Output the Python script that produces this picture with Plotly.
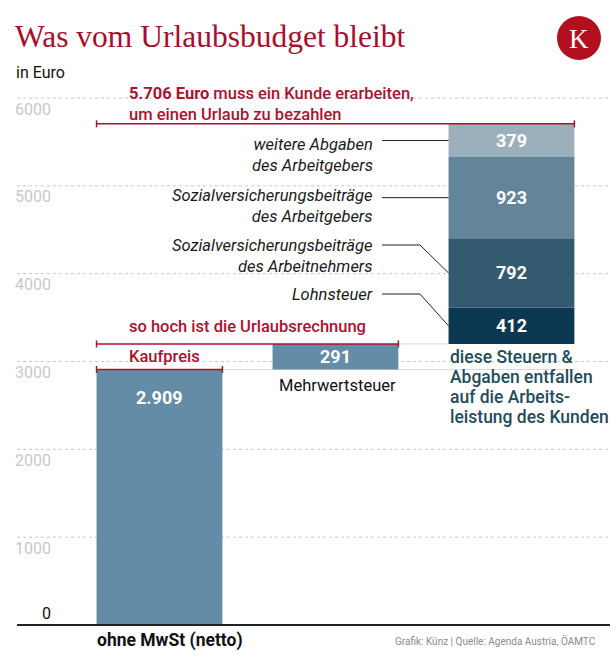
import plotly.graph_objects as go

# ---------------- data ----------------
categories = ["ohne MwSt (netto)", "Mehrwertsteuer", "Steuern & Abgaben"]
kaufpreis = 2909
mehrwertsteuer = 291
abgaben_labels = ["Lohnsteuer", "Sozialversicherungsbeiträge<br>des Arbeitnehmers",
                  "Sozialversicherungsbeiträge<br>des Arbeitgebers", "weitere Abgaben<br>des Arbeitgebers"]
abgaben_values = [412, 792, 923, 379]
abgaben_text = ["412", "792", "923", "379"]
total_text = "5.706"
tick_values = [0, 1000, 2000, 3000, 4000, 5000, 6000]
note_lines = ["diese Steuern &", "Abgaben entfallen", "auf die Arbeits-", "leistung des Kunden"]

# ---------------- styles ----------------
W, H = 616, 658
RED = "#AC1230"
LOGO_RED = "#B3101F"
TEAL = "#1E4D5C"
BAR_BLUE = "#658CA6"
SEG_COLORS = ["#0D3851", "#345A6F", "#64849A", "#9BB0BC"]
FONT = "Roboto"

X0 = -0.906
PX_PER_X = 176.0
ZERO_PX = 625.0
K = 527.0 / 6000.0
BW = 0.715

def xd(px):
    return X0 + px / PX_PER_X

def yd(py):
    return (ZERO_PX - py) / K

def px_(px):
    return px / W

def py_(py):
    return 1 - py / H

fig = go.Figure()

fig.add_bar(x=[0], y=[kaufpreis], base=[0], width=BW, marker_color=BAR_BLUE,
            marker_line_width=0, hoverinfo="skip")
fig.add_bar(x=[1], y=[mehrwertsteuer], base=[kaufpreis], width=BW, marker_color=BAR_BLUE,
            marker_line_width=0, hoverinfo="skip")
start3 = kaufpreis + mehrwertsteuer
bases = []
acc = start3
for v in abgaben_values:
    bases.append(acc)
    acc += v
total = acc
for i, v in enumerate(abgaben_values):
    fig.add_bar(x=[2], y=[v], base=[bases[i]], width=BW, marker_color=SEG_COLORS[i],
                marker_line_width=0, hoverinfo="skip")

shapes = []
annotations = []

for t in tick_values[1:]:
    shapes.append(dict(type="line", xref="paper", yref="y", x0=px_(17), x1=px_(610), y0=t, y1=t,
                       line=dict(color="#C9C9C9", width=1, dash="dot"), layer="below"))
    annotations.append(dict(xref="paper", yref="y", x=px_(53), y=t, yshift=-11, xanchor="right",
                            yanchor="middle", text=str(t), showarrow=False,
                            font=dict(family=FONT, size=16, color="#C8C8C8")))
shapes.append(dict(type="line", xref="paper", yref="y", x0=px_(17), x1=px_(610), y0=0, y1=0,
                   line=dict(color="#222222", width=2)))
annotations.append(dict(xref="paper", yref="y", x=px_(53), y=0, yshift=12, xanchor="right",
                        yanchor="middle", text="0", showarrow=False,
                        font=dict(family=FONT, size=16, color="#111111")))

shapes.append(dict(type="line", x0=0 + BW / 2, x1=2 + BW / 2, y0=kaufpreis, y1=kaufpreis,
                   line=dict(color="#DADADA", width=1), layer="below"))
shapes.append(dict(type="line", x0=1 + BW / 2, x1=2 - BW / 2, y0=start3, y1=start3,
                   line=dict(color="#DADADA", width=1), layer="below"))

tick_h = 3.5 / K
def bracket(xa, xb, yv):
    shapes.append(dict(type="line", x0=xa, x1=xb, y0=yv, y1=yv, line=dict(color=RED, width=1.5)))
    for xx in (xa, xb):
        shapes.append(dict(type="line", x0=xx, x1=xx, y0=yv - tick_h, y1=yv + tick_h,
                           line=dict(color=RED, width=1.5)))

bracket(0 - BW / 2, 2 + BW / 2, total)
bracket(0 - BW / 2, 1 + BW / 2, start3)
bracket(0 - BW / 2, 0 + BW / 2, kaufpreis)

annotations.append(dict(x=0, y=kaufpreis, yshift=-28, text="<b>2.909</b>", showarrow=False,
                        font=dict(family=FONT, size=18, color="white")))
annotations.append(dict(x=1, y=kaufpreis + mehrwertsteuer / 2, text="<b>%d</b>" % mehrwertsteuer,
                        showarrow=False, font=dict(family=FONT, size=18, color="white")))
for i, v in enumerate(abgaben_values):
    annotations.append(dict(x=2, y=bases[i] + v / 2, text="<b>%s</b>" % abgaben_text[i],
                            showarrow=False, font=dict(family=FONT, size=18, color="white")))

label_rows = [294, 245, 195, 144]
for i, v in enumerate(abgaben_values):
    mid = bases[i] + v / 2
    row = label_rows[i]
    bx = 2 - BW / 2
    if abs(yd(row) - mid) * K > 8:
        path = "M %f,%f L %f,%f L %f,%f" % (xd(382), yd(row), xd(420), yd(row), bx, mid)
        shapes.append(dict(type="path", path=path, line=dict(color="#222222", width=1)))
    else:
        shapes.append(dict(type="line", x0=xd(382), x1=bx, y0=mid, y1=mid,
                           line=dict(color="#222222", width=1)))
    annotations.append(dict(xref="paper", yref="paper", x=px_(375), y=py_(row - 11),
                            xanchor="right", yanchor="top", align="right",
                            text="<i>%s</i>" % abgaben_labels[i], showarrow=False,
                            font=dict(family=FONT, size=16.5, color="#1a1a1a")))

annotations.append(dict(xref="paper", yref="paper", x=px_(127), y=py_(82), xanchor="left",
                        yanchor="top", align="left",
                        text="<b>%s Euro</b> muss ein Kunde erarbeiten,<br>um einen Urlaub zu bezahlen" % total_text,
                        showarrow=False, font=dict(family=FONT, size=16.5, color=RED, weight=500)))
annotations.append(dict(xref="paper", x=px_(127), y=start3, yshift=17, xanchor="left",
                        yanchor="middle", text="so hoch ist die Urlaubsrechnung", showarrow=False,
                        font=dict(family=FONT, size=16.5, color=RED, weight=500)))
annotations.append(dict(xref="paper", x=px_(127), y=kaufpreis, yshift=13, xanchor="left",
                        yanchor="middle", text="Kaufpreis", showarrow=False,
                        font=dict(family=FONT, size=16.5, color=RED, weight=500)))
annotations.append(dict(x=1 - BW / 2, xshift=4, y=kaufpreis, yshift=-16, xanchor="left",
                        yanchor="middle", text=categories[1], showarrow=False,
                        font=dict(family=FONT, size=16.5, color="#111111")))
for j, line in enumerate(note_lines):
    annotations.append(dict(x=2 - BW / 2, xshift=-1, y=start3, yshift=-13 - 20 * j,
                            xanchor="left", yanchor="middle", text=line, showarrow=False,
                            font=dict(family=FONT, size=17.5, color=TEAL, weight=500)))

annotations.append(dict(x=0 - BW / 2, xshift=-2, yref="paper", y=py_(640), xanchor="left",
                        yanchor="middle", text="<b>%s</b>" % categories[0], showarrow=False,
                        font=dict(family=FONT, size=17.5, color="#111111")))
annotations.append(dict(xref="paper", yref="paper", x=px_(598), y=py_(641), xanchor="right",
                        yanchor="middle", text="Grafik: Künz | Quelle: Agenda Austria, ÖAMTC",
                        showarrow=False, font=dict(family=FONT, size=10, color="#8A8A8A")))

annotations.append(dict(xref="paper", yref="paper", x=px_(13), y=py_(37), xanchor="left",
                        yanchor="middle", text="Was vom Urlaubsbudget bleibt", showarrow=False,
                        font=dict(family="Liberation Serif", size=31.5, color="#A50F2D")))
annotations.append(dict(xref="paper", yref="paper", x=px_(14), y=py_(73), xanchor="left",
                        yanchor="middle", text="in Euro", showarrow=False,
                        font=dict(family=FONT, size=16, color="#111111")))
shapes.append(dict(type="circle", xref="paper", yref="paper", x0=px_(557), x1=px_(601),
                   y0=py_(60), y1=py_(16), fillcolor=LOGO_RED, line=dict(width=0)))
annotations.append(dict(xref="paper", yref="paper", x=px_(579), y=py_(39), xanchor="center",
                        yanchor="middle", text="K", showarrow=False,
                        font=dict(family="Liberation Serif", size=27, color="white")))

fig.update_layout(
    width=W, height=H, margin=dict(l=0, r=0, t=0, b=0), autosize=False,
    paper_bgcolor="white", plot_bgcolor="white", showlegend=False, barmode="overlay",
    xaxis=dict(range=[X0, X0 + W / PX_PER_X], visible=False, fixedrange=True),
    yaxis=dict(range=[yd(H), yd(0)], visible=False, fixedrange=True),
    shapes=shapes, annotations=annotations,
)
fig.write_html("out.html", config={"displayModeBar": False},
               post_script="document.body.style.margin='0';document.body.style.overflow='hidden';")
